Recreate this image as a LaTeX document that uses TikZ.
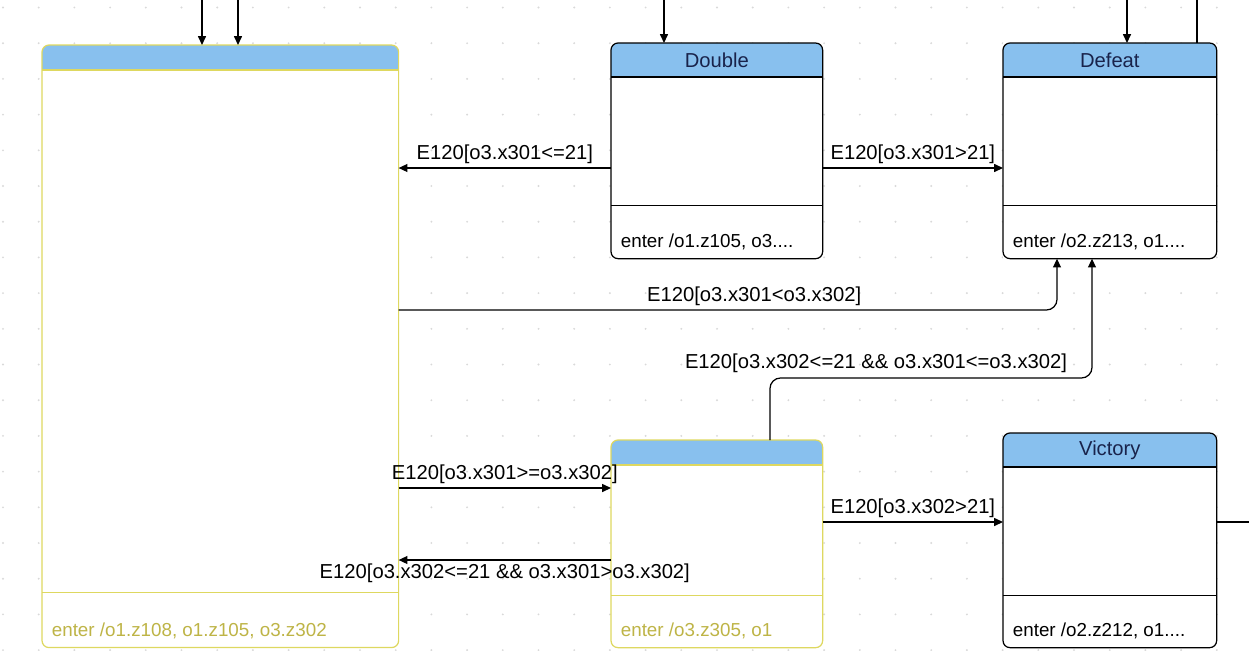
\documentclass[tikz,border=0pt]{standalone}
\usepackage{fontspec}
\setmainfont{Liberation Sans}
\usetikzlibrary{arrows.meta,calc}

\definecolor{hdrblue}{RGB}{136,192,238}
\definecolor{hdrtext}{RGB}{25,35,75}
\definecolor{selyel}{RGB}{222,216,96}
\definecolor{selolive}{RGB}{190,180,70}

\begin{document}
\begin{tikzpicture}[x=0.02cm,y=-0.02cm,
  state/.style={fill=white,inner sep=0pt,anchor=north west},
  trans/.style={-{Triangle[length=5pt,width=4.5pt]},line width=0.7pt},
  lbl/.style={font=\fontsize{11.5}{13}\selectfont,inner sep=2pt}]
\useasboundingbox (0,0) rectangle (1249,650);
% faint dot grid of the editor
\foreach \i in {0,...,34}{
  \foreach \j in {0,...,18}{
    \fill[gray!30] (3+35.7*\i,7.5+35.7*\j) circle (0.6pt);
  }
}
% states: name/x/y/width/height/header/divider/border/entry colour/title/entry
\foreach \n/\px/\py/\w/\h/\hh/\dv/\col/\tcol/\ttl/\ent in {
  lose/42/45/7.12/12.04/25/55/selyel/selolive/{}/{enter /o1.z108, o1.z105, o3.z302},
  double/611/43/4.22/4.30/34/53/black/black/Double/{enter /o1.z105, o3....},
  defeat/1003/43/4.26/4.30/34/53/black/black/Defeat/{enter /o2.z213, o1....},
  midst/611/440/4.22/4.14/25/52/selyel/selolive/{}/{enter /o3.z305, o1},
  victory/1003/433/4.26/4.28/34/52/black/black/Victory/{enter /o2.z212, o1....}
}{
  \node[state,minimum width=\w cm,minimum height=\h cm] (\n) at (\px,\py) {};
  \begin{scope}
    \clip[rounded corners=4pt] (\n.north west) rectangle (\n.south east);
    \fill[hdrblue] (\n.north west) rectangle ($(\n.north east)+(0,\hh)$);
  \end{scope}
  \draw[\col,line width=0.7pt] ($(\n.north west)+(0,\hh)$) -- ($(\n.north east)+(0,\hh)$);
  \draw[\col,line width=0.7pt] ($(\n.south west)+(0,-\dv)$) -- ($(\n.south east)+(0,-\dv)$);
  \draw[\col,line width=0.7pt,rounded corners=4pt] (\n.north west) rectangle (\n.south east);
  \node[lbl,text=hdrtext] (\n-t) at ($(\n.north)+(0,\hh/2)$) {\ttl};
  \node[lbl,font=\fontsize{10.7}{12}\selectfont,anchor=west,text=\tcol] (\n-e)
    at ($(\n.south west)+(6,-17)$) {\ent};
}
% free ends
\coordinate (in1) at (202,0);
\coordinate (in2) at (238,0);
\coordinate (in3) at (664,0);
\coordinate (in4) at (1127,0);
\coordinate (out1) at (1197,0);
\coordinate (out2) at (1249,522);
\draw[trans] (in1) -- (in1 |- lose.north);
\draw[trans] (in2) -- (in2 |- lose.north);
\draw[trans] (in3) -- (in3 |- double.north);
\draw[trans] (in4) -- (in4 |- defeat.north);
\draw[line width=0.7pt] (out1 |- defeat.north) -- (out1);
\draw[line width=0.7pt] (out2 -| victory.east) -- (out2);
% transitions
\coordinate (r1) at (0,168);
\draw[trans] (r1 -| double.west) -- (r1 -| lose.east)
  node[lbl,midway,above] (l1) {E120[o3.x301<=21]};
\draw[trans] (r1 -| double.east) -- (r1 -| defeat.west)
  node[lbl,midway,above] (l2) {E120[o3.x301>21]};
\coordinate (r3) at (1057,310);
\draw[trans,rounded corners=6pt] (r3 -| lose.east) -| (r3 |- defeat.south)
  node[lbl,pos=0.27,above] (l3) {E120[o3.x301<o3.x302]};
\coordinate (r4) at (770,378);
\coordinate (r4e) at (1092,0);
\draw[trans,rounded corners=6pt] (r4 |- midst.north) |- (r4e |- r4) -- (r4e |- defeat.south);
\node[lbl,anchor=south] (l4) at (876,377) {E120[o3.x302<=21 \&\& o3.x301<=o3.x302]};
\coordinate (r5) at (0,488);
\draw[trans] (r5 -| lose.east) -- (r5 -| midst.west)
  node[lbl,midway,above] (l5) {E120[o3.x301>=o3.x302]};
\coordinate (r6) at (0,560);
\draw[trans] (r6 -| midst.west) -- (r6 -| lose.east)
  node[lbl,midway,below] (l6) {E120[o3.x302<=21 \&\& o3.x301>o3.x302]};
\coordinate (r7) at (0,522);
\draw[trans] (r7 -| midst.east) -- (r7 -| victory.west)
  node[lbl,midway,above] (l7) {E120[o3.x302>21]};
\end{tikzpicture}
\end{document}
